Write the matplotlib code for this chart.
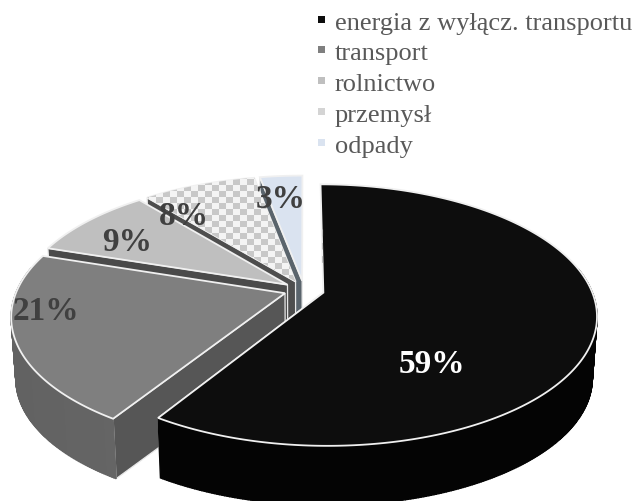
import numpy as np
import matplotlib
matplotlib.use("Agg")
import matplotlib.pyplot as plt
from matplotlib.patches import Polygon, Rectangle

# Emission shares
categories = ["energia z wyłącz. transportu", "transport", "rolnictwo", "przemysł", "odpady"]
shares = [59, 21, 9, 8, 3]
share_labels = ["59%", "21%", "9%", "8%", "3%"]

top_colors = ["#0d0d0d", "#7f7f7f", "#bfbfbf", "#d9d9d9", "#dae3f0"]
legend_colors = ["#0d0d0d", "#7f7f7f", "#bfbfbf", "#d4d4d4", "#dae3f0"]
inner_colors = ["#050505", "#565656", "#4a4a4a", "#4e4e4e", "#5a646c"]
wall_left = ["#040404", "#626262", "#8a8a8a", "#a0a0a0", "#a0a8b0"]
wall_right = ["#040404", "#707070", "#8a8a8a", "#a0a0a0", "#a0a8b0"]
label_colors = ["white", "#404040", "#404040", "#404040", "#404040"]
label_pos = [(432, 365), (46, 312), (127, 243), (184, 217), (281, 200)]

# Pie geometry in pixels
CX, CY = 304, 291
RX, RY = 268, 126
PERSP = 0.171
EXPLODE = 0.075
DEPTH = 62
DEPTH_SHRINK = 0.984


def project(u, v):
    s = 1 / (1 + PERSP * v)
    return CX + RX * u * s, CY - RY * v * s


def project_low(u, v):
    x, y = project(u, v)
    return CX + (x - CX) * DEPTH_SHRINK, CY + DEPTH + (y - CY) * DEPTH_SHRINK


def hex_mix(c1, c2, t):
    a = np.array(matplotlib.colors.to_rgb(c1))
    b = np.array(matplotlib.colors.to_rgb(c2))
    return a + (b - a) * t


def draw_slice(ax, i, start, stop, z):
    mid = (start + stop) / 2
    du, dv = EXPLODE * np.sin(mid), EXPLODE * np.cos(mid)
    ang = np.linspace(start, stop, max(int(np.degrees(stop - start)), 4) * 2)
    us, vs = du + np.sin(ang), dv + np.cos(ang)
    top_x, top_y = project(us, vs)
    low_x, low_y = project_low(us, vs)
    ax_x, ax_y = project(du, dv)
    lx, ly = project_low(du, dv)

    # the cut face that looks towards the viewer
    a = stop if i == 0 else start
    ex, ey = project(du + np.sin(a), dv + np.cos(a))
    fx, fy = project_low(du + np.sin(a), dv + np.cos(a))
    ax.add_patch(Polygon([(ax_x, ax_y), (ex, ey), (fx, fy), (lx, ly)],
                         fc=inner_colors[i], ec="#e8e8e8", lw=0.9, zorder=z))

    # outer wall, shaded along the arc
    for j in range(len(ang) - 1):
        if np.cos(ang[j]) > 0.2:
            continue
        col = hex_mix(wall_left[i], wall_right[i], (us[j] + 1) / 2)
        ax.add_patch(Polygon([(top_x[j], top_y[j]), (top_x[j + 1], top_y[j + 1]),
                              (low_x[j + 1], low_y[j + 1]), (low_x[j], low_y[j])],
                             fc=col, ec=col, lw=1.0, zorder=z + 0.1))

    # top surface
    pts = [(ax_x, ax_y)] + list(zip(top_x, top_y))
    top = Polygon(pts, closed=True, fc=top_colors[i], ec="#f0f0f0", lw=1.3, zorder=z + 0.2)
    ax.add_patch(top)

    if categories[i] == "przemysł":
        # checker fill clipped to the slice
        cells = np.indices((50, 50)).sum(axis=0) % 2
        im = ax.imshow(cells, cmap=matplotlib.colors.ListedColormap(["#c8c8c8", "#f4f4f4"]),
                       extent=(100, 100 + 50 * 7, 150 + 50 * 6, 150), interpolation="nearest",
                       aspect="auto", zorder=z + 0.3)
        im.set_clip_path(top)


fig = plt.figure(figsize=(6.36, 5.02), dpi=100)
ax = fig.add_axes([0, 0, 1, 1])

# Slices run clockwise from twelve o'clock, drawn back to front
edges = np.cumsum([0] + shares) / sum(shares) * 2 * np.pi
for rank, i in enumerate([4, 3, 2, 1, 0]):
    draw_slice(ax, i, edges[i], edges[i + 1], 2 + rank)

# Faint dashes on the black slice's back edge
ax.plot([322, 322], [230, 268], color="#bbbbbb", lw=0.8, ls=(0, (6, 6)), zorder=30)

for text, (x, y), c in zip(share_labels, label_pos, label_colors):
    ax.text(x, y, text, family="Liberation Serif", weight="bold", fontsize=24,
            color=c, ha="center", va="center", zorder=40)

# Legend
legend_y = [24, 54, 85, 116, 147]
for name, color, y in zip(categories, legend_colors, legend_y):
    ax.add_patch(Rectangle((318, y - 7), 7, 7, fc=color, ec="none", zorder=40))
    ax.text(335, y, name, family="Liberation Serif", fontsize=19, color="#595959",
            va="center", ha="left", zorder=40)

ax.set_xlim(0, 636)
ax.set_ylim(502, 0)
ax.axis("off")
fig.savefig("out.png", dpi=100)
